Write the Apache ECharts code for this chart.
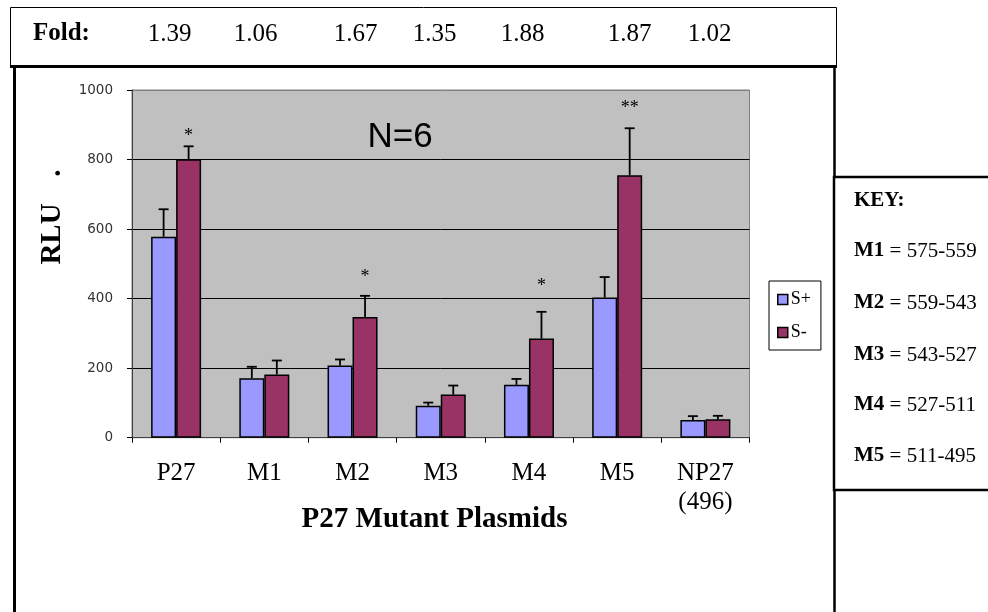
<!DOCTYPE html>
<html>
<head>
<meta charset="utf-8">
<script src="https://cdn.jsdelivr.net/npm/echarts@6/dist/echarts.min.js"></script>
<style>
html,body{margin:0;padding:0;background:#fff;}
#chart{width:988px;height:612px;}
</style>
</head>
<body>
<div id="chart"></div>
<script>
// ---- data ----
const categories = ['P27', 'M1', 'M2', 'M3', 'M4', 'M5', 'NP27\n(496)'];
const seriesNames = ['S+', 'S-'];
const sPlus = [578, 171, 208, 92, 152, 403, 51];
const sMinus = [801, 182, 347, 124, 285, 755, 53];
const sPlusErr = [79, 33, 17, 9, 17, 59, 11];
const sMinusErr = [37, 40, 61, 26, 77, 135, 10];
const stars = ['*', '', '*', '', '*', '**', ''];
const starLevels = [876, 0, 469, 0, 444, 955, 0];
const yMin = 0, yMax = 1000, yInterval = 200;
const foldLabel = 'Fold:';
const foldValues = ['1.39', '1.06', '1.67', '1.35', '1.88', '1.87', '1.02'];
const keyTitle = 'KEY:';
const keyNames = ['M1', 'M2', 'M3', 'M4', 'M5'];
const keyRanges = ['575-559', '559-543', '543-527', '527-511', '511-495'];
const noteText = 'N=6';
const xTitle = 'P27 Mutant Plasmids';
const yTitle = 'RLU';

// ---- layout ----
const BAR_W = 25;
const SERIF = '"Liberation Serif", "Times New Roman", serif';
const foldX = [169.5, 255.5, 355.5, 434.5, 522.5, 629.5, 709.5];
const keyY = [251, 303, 355, 405, 456];

const chart = echarts.init(document.getElementById('chart'), null, {renderer: 'canvas'});

function errRenderer(values, errs, side) {
  return function (params, api) {
    const i = api.value(0);
    const v = api.value(1);
    const e = api.value(2);
    const base = api.coord([i, v]);
    const top = api.coord([i, v + e]);
    const x = base[0] + side * BAR_W / 2;
    const st = {stroke: '#000', lineWidth: 1.8};
    return {
      type: 'group',
      children: [
        {type: 'line', shape: {x1: x, y1: base[1], x2: x, y2: top[1]}, style: st},
        {type: 'line', shape: {x1: x - 5, y1: top[1], x2: x + 5, y2: top[1]}, style: st}
      ]
    };
  };
}

function text(x, y, str, opts) {
  return Object.assign({
    type: 'text', x: x, y: y, z: 10,
    style: Object.assign({
      text: str, fill: '#000', fontFamily: SERIF, fontSize: 20,
      align: 'left', verticalAlign: 'middle',
      textAlign: 'left', textVerticalAlign: 'middle'
    }, opts || {})
  });
}

const graphics = [];
// Fold box
graphics.push({type: 'rect', shape: {x: 10.5, y: 7.5, width: 826, height: 59}, style: {fill: '#fff', stroke: '#000', lineWidth: 1}, z: 1});
graphics.push({type: 'line', shape: {x1: 10, y1: 66.5, x2: 837, y2: 66.5}, style: {stroke: '#000', lineWidth: 3}, z: 2});
graphics.push(text(33, 34, foldLabel, {fontSize: 25, fontWeight: 'bold'}));
foldValues.forEach((v, i) => graphics.push(text(foldX[i], 34, v, {fontSize: 25, align: 'center', textAlign: 'center'})));
// main box
graphics.push({type: 'line', shape: {x1: 14.5, y1: 66, x2: 14.5, y2: 612}, style: {stroke: '#000', lineWidth: 3}, z: 2});
graphics.push({type: 'line', shape: {x1: 834.5, y1: 66, x2: 834.5, y2: 178}, style: {stroke: '#000', lineWidth: 2.5}, z: 2});
graphics.push({type: 'line', shape: {x1: 834.5, y1: 490, x2: 834.5, y2: 612}, style: {stroke: '#000', lineWidth: 2.5}, z: 2});
// key box
graphics.push({type: 'rect', shape: {x: 834, y: 177, width: 200, height: 313}, style: {fill: '#fff', stroke: '#000', lineWidth: 2.5}, z: 2});
graphics.push(text(854, 201, keyTitle, {fontSize: 21, fontWeight: 'bold'}));
keyNames.forEach((n, i) => graphics.push(text(854, keyY[i], '{b|' + n + '} = ' + keyRanges[i], {
  fontSize: 21, rich: {b: {fontWeight: 'bold', fontSize: 21, fontFamily: SERIF}}
})));
// N=6
graphics.push(text(400, 137, noteText, {fontSize: 35, fontFamily: '"Liberation Sans", Arial, sans-serif', align: 'center', textAlign: 'center'}));
// axis titles
graphics.push(text(434.5, 520, xTitle, {fontSize: 29, fontWeight: 'bold', align: 'center', textAlign: 'center'}));
graphics.push(Object.assign(text(53, 234, yTitle, {fontSize: 29, fontWeight: 'bold', align: 'center', textAlign: 'center'}), {rotation: Math.PI / 2}));
graphics.push(Object.assign(text(53, 173, '.', {fontSize: 29, fontWeight: 'bold', align: 'center', textAlign: 'center'}), {rotation: Math.PI / 2}));

const option = {
  animation: false,
  backgroundColor: '#fff',
  grid: {
    left: 132, top: 90, right: 238.5, bottom: 174.3,
    show: true, backgroundColor: '#C0C0C0', borderColor: '#808080', borderWidth: 1
  },
  legend: {
    data: seriesNames,
    orient: 'vertical',
    left: 769, top: 281,
    padding: [9, 10, 8, 8],
    itemWidth: 10, itemHeight: 10, itemGap: 14,
    backgroundColor: '#fff', borderColor: '#000', borderWidth: 1,
    icon: 'rect',
    itemStyle: {borderColor: '#000', borderWidth: 1.5},
    textStyle: {fontFamily: SERIF, fontSize: 18, color: '#000', lineHeight: 19, padding: [0, 0, 0, -2]}
  },
  xAxis: {
    type: 'category',
    data: categories,
    axisLine: {lineStyle: {color: '#404040', width: 1}},
    axisTick: {show: true, length: 5, lineStyle: {color: '#000'}},
    axisLabel: {interval: 0, fontFamily: SERIF, fontSize: 25, color: '#000', lineHeight: 29, margin: 21},
    splitLine: {show: false}
  },
  yAxis: {
    type: 'value', min: yMin, max: yMax, interval: yInterval,
    axisLine: {show: true, lineStyle: {color: '#404040', width: 1}},
    axisTick: {show: true, length: 5, lineStyle: {color: '#000'}},
    axisLabel: {fontFamily: '"DejaVu Sans", Verdana, sans-serif', fontSize: 13.5, color: '#333', margin: 19,
      formatter: function (v) { return String(v); }},
    splitLine: {show: true, lineStyle: {color: ['#000', '#000', '#000', '#000', '#000', '#808080'], width: 1}}
  },
  series: [
    {
      name: seriesNames[0], type: 'bar', data: sPlus, barWidth: BAR_W, barGap: '0%',
      itemStyle: {color: '#9999FF', borderColor: '#000', borderWidth: 1.5}, z: 2
    },
    {
      name: seriesNames[1], type: 'bar', data: sMinus, barWidth: BAR_W, barGap: '0%',
      itemStyle: {color: '#993366', borderColor: '#000', borderWidth: 1.5}, z: 2
    },
    {
      type: 'custom', renderItem: errRenderer(sPlus, sPlusErr, -1), z: 3,
      data: categories.map((c, i) => [i, sPlus[i], sPlusErr[i]]), silent: true
    },
    {
      type: 'custom', renderItem: errRenderer(sMinus, sMinusErr, 1), z: 3,
      data: categories.map((c, i) => [i, sMinus[i], sMinusErr[i]]), silent: true
    },
    {
      type: 'custom', z: 4, silent: true,
      data: categories.map((c, i) => [i, starLevels[i]]),
      renderItem: function (params, api) {
        const s = stars[params.dataIndex];
        if (!s) return null;
        const p = api.coord([api.value(0), api.value(1)]);
        return {
          type: 'text', x: p[0] + BAR_W / 2, y: p[1] + 3,
          style: {text: s, fill: '#000', fontFamily: SERIF, fontSize: 18,
            align: 'center', verticalAlign: 'middle', textAlign: 'center', textVerticalAlign: 'middle'}
        };
      }
    }
  ],
  graphic: graphics
};
chart.setOption(option);
</script>
</body>
</html>
